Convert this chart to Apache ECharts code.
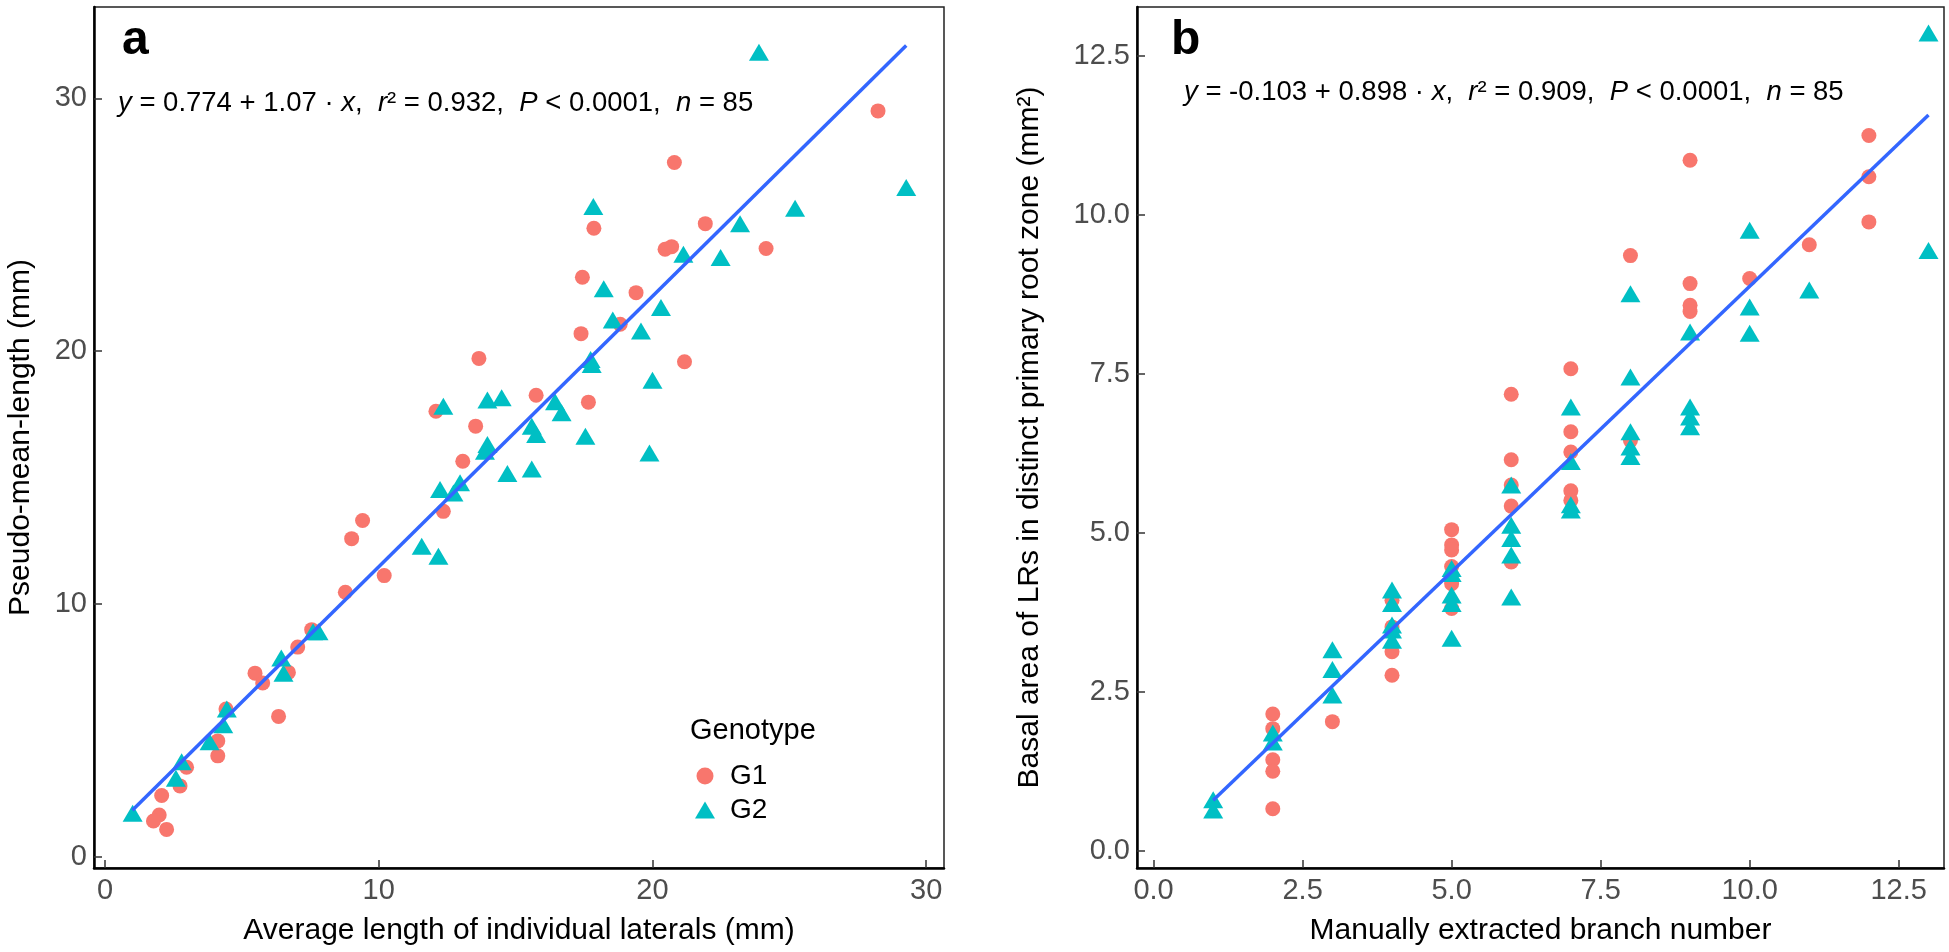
<!DOCTYPE html>
<html>
<head>
<meta charset="utf-8">
<script src="https://cdn.jsdelivr.net/npm/echarts@6/dist/echarts.min.js"></script>
<style>html,body{margin:0;padding:0;background:#fff}#c{width:1949px;height:952px}</style>
</head>
<body>
<div id="c"></div>
<script>
// ---- Panel a data: [Average length of individual laterals, Pseudo-mean-length] ----
const g1A = [[2.07,2.42],[1.98,1.65],[1.77,1.41],[2.25,1.08],[2.74,2.80],[2.98,3.54],[4.12,3.99],[4.12,4.58],[4.42,5.84],[6.34,5.55],[5.48,7.26],[5.76,6.87],[6.70,7.29],[7.04,8.29],[7.55,8.98],[8.78,10.46],[10.20,11.12],[9.01,12.58],[9.41,13.30],[12.36,13.66],[13.07,15.64],[12.09,17.62],[13.54,17.03],[13.66,19.71],[15.75,18.25],[17.66,17.98],[17.39,20.69],[17.44,22.92],[17.86,24.86],[18.82,21.06],[19.40,22.31],[20.46,24.03],[20.70,24.13],[20.80,27.46],[21.93,25.04],[21.17,19.58],[24.15,24.06],[28.24,29.50]];
const g2A = [[1.01,1.72],[2.59,3.10],[2.80,3.76],[3.82,4.55],[4.32,5.22],[4.45,5.84],[6.44,7.86],[6.52,7.26],[7.60,8.90],[7.80,8.90],[11.57,12.28],[12.18,11.88],[12.24,14.52],[12.73,14.39],[12.97,14.79],[12.36,17.82],[13.97,18.06],[14.49,18.15],[13.97,16.30],[13.88,16.04],[14.70,15.16],[15.59,15.34],[15.59,17.03],[15.75,16.70],[16.44,18.00],[16.68,17.56],[17.55,16.63],[17.74,19.67],[17.78,19.47],[17.84,25.72],[18.22,22.47],[18.55,21.23],[19.58,20.79],[20.00,18.85],[19.89,15.97],[20.31,21.72],[21.13,23.83],[22.49,23.70],[23.20,25.04],[23.89,31.82],[25.21,25.65],[29.27,26.47]];
const fitA = [[1.0,1.84],[29.27,32.09]];
const ticksA_x = [0,10,20,30];
const ticksA_y = [0,10,20,30];

// ---- Panel b data: [Manually extracted branch number, Basal area] ----
const g1B = [[2,2.15],[2,1.92],[2,1.43],[2,1.25],[2,0.66],[3,2.03],[4,3.94],[4,3.52],[4,3.13],[4,2.76],[5,5.05],[5,4.81],[5,4.73],[5,4.47],[5,4.20],[5,3.81],[6,7.18],[6,6.15],[6,5.75],[6,5.42],[6,4.54],[7,7.58],[7,6.59],[7,6.27],[7,5.66],[7,5.51],[8,9.36],[8,6.45],[9,10.86],[9,8.92],[9,8.58],[9,8.48],[10,9.00],[11,9.53],[12,11.25],[12,10.60],[12,9.89]];
const g2B = [[1,0.80],[1,0.64],[2,1.85],[2,1.71],[3,3.16],[3,2.85],[3,2.45],[4,4.10],[4,3.89],[4,3.55],[4,3.47],[4,3.31],[5,4.44],[5,4.36],[5,4.02],[5,3.89],[5,3.34],[6,5.75],[6,5.12],[6,4.91],[6,4.65],[6,3.99],[7,6.98],[7,6.12],[7,5.44],[7,5.36],[8,8.76],[8,7.45],[8,6.59],[8,6.35],[8,6.20],[9,8.16],[9,6.98],[9,6.82],[9,6.67],[10,9.76],[10,8.55],[10,8.14],[11,8.82],[13,12.86],[13,9.44]];
const fitB = [[1,0.795],[13,11.571]];
const ticksB = [0,2.5,5,7.5,10,12.5];

const FONT = "'Liberation Sans', Arial, sans-serif";
const C1 = '#F8766D', C2 = '#00BFC4', CL = '#3366FF';

function xAxisCfg(gi, min, max, ticks, name, fmt) {
  return {
    type:'value', gridIndex:gi, min:min, max:max, position:'bottom',
    name:name, nameLocation:'middle', nameGap:48,
    nameTextStyle:{color:'#000', fontSize:30, fontFamily:FONT},
    axisLine:{show:true, onZero:false, lineStyle:{color:'#000', width:2.5}},
    axisTick:{show:true, inside:true, length:8, customValues:ticks, lineStyle:{color:'#333', width:1.5}},
    axisLabel:{show:true, customValues:ticks, color:'#4D4D4D', fontSize:29, fontFamily:FONT, margin:8, formatter:fmt},
    splitLine:{show:false}
  };
}
function yAxisCfg(gi, min, max, ticks, name, gap, fmt) {
  return {
    type:'value', gridIndex:gi, min:min, max:max, position:'left',
    name:name, nameLocation:'middle', nameGap:gap,
    nameTextStyle:{color:'#000', fontSize:30, fontFamily:FONT},
    axisLine:{show:true, onZero:false, lineStyle:{color:'#000', width:2.5}},
    axisTick:{show:true, inside:true, length:8, customValues:ticks, lineStyle:{color:'#333', width:1.5}},
    axisLabel:{show:true, customValues:ticks, color:'#4D4D4D', fontSize:29, fontFamily:FONT, margin:7, formatter:fmt},
    splitLine:{show:false}
  };
}
const f0 = v => String(v);
const f1 = v => Number(v).toFixed(1);

const eqStyle = {fill:'#000', fontSize:27.5, fontFamily:FONT};
const rich = {i:{fontStyle:'italic', fontSize:27.5, fontFamily:FONT, fill:'#000'}};

const option = {
  animation:false,
  backgroundColor:'#fff',
  grid:[
    {left:94, top:7, width:850, height:861, show:true, borderColor:'#222', borderWidth:1.5, containLabel:false},
    {left:1137, top:7, width:807, height:861, show:true, borderColor:'#222', borderWidth:1.5, containLabel:false}
  ],
  xAxis:[
    xAxisCfg(0, -0.402, 30.65, ticksA_x, 'Average length of individual laterals (mm)', f0),
    xAxisCfg(1, -0.278, 13.26, ticksB, 'Manually extracted branch number', f1)
  ],
  yAxis:[
    yAxisCfg(0, -0.447, 33.61, ticksA_y, 'Pseudo-mean-length (mm)', 58, f0),
    yAxisCfg(1, -0.272, 13.27, ticksB, 'Basal area of LRs in distinct primary root zone (mm²)', 92, f1)
  ],
  legend:{
    orient:'vertical', left:690, top:756, itemGap:4, itemWidth:20, itemHeight:17,
    data:['G1','G2'], selectedMode:false,
    textStyle:{color:'#000', fontSize:28, fontFamily:FONT, padding:[0,0,0,10], lineHeight:30}
  },
  graphic:[
    {type:'text', left:122, top:17, style:{text:'a', fontSize:48, fontWeight:'bold', fontFamily:FONT, fill:'#000'}},
    {type:'text', left:1171, top:17, style:{text:'b', fontSize:48, fontWeight:'bold', fontFamily:FONT, fill:'#000'}},
    {type:'text', left:118, top:89, style:Object.assign({}, eqStyle, {rich:rich,
      text:'{i|y} = 0.774 + 1.07 · {i|x},  {i|r}² = 0.932,  {i|P} < 0.0001,  {i|n} = 85'})},
    {type:'text', left:1184, top:78, style:Object.assign({}, eqStyle, {rich:rich,
      text:'{i|y} = -0.103 + 0.898 · {i|x},  {i|r}² = 0.909,  {i|P} < 0.0001,  {i|n} = 85'})},
    {type:'text', left:690, top:716, style:{text:'Genotype', fontSize:29, fontFamily:FONT, fill:'#000'}}
  ],
  series:[
    {name:'G1', type:'scatter', xAxisIndex:0, yAxisIndex:0, data:g1A, symbol:'circle', symbolSize:15, itemStyle:{color:C1, opacity:1}, z:2},
    {name:'G2', type:'scatter', xAxisIndex:0, yAxisIndex:0, data:g2A, symbol:'triangle', symbolSize:[20,17], itemStyle:{color:C2, opacity:1}, z:3},
    {name:'fitA', type:'line', xAxisIndex:0, yAxisIndex:0, data:fitA, showSymbol:false, symbol:'none', lineStyle:{color:CL, width:3.5}, z:4},
    {name:'G1', type:'scatter', xAxisIndex:1, yAxisIndex:1, data:g1B, symbol:'circle', symbolSize:15, itemStyle:{color:C1, opacity:1}, z:2},
    {name:'G2', type:'scatter', xAxisIndex:1, yAxisIndex:1, data:g2B, symbol:'triangle', symbolSize:[20,17], itemStyle:{color:C2, opacity:1}, z:3},
    {name:'fitB', type:'line', xAxisIndex:1, yAxisIndex:1, data:fitB, showSymbol:false, symbol:'none', lineStyle:{color:CL, width:3.5}, z:4}
  ]
};
const chart = echarts.init(document.getElementById('c'), null, {renderer:'canvas'});
chart.setOption(option);
</script>
</body>
</html>
